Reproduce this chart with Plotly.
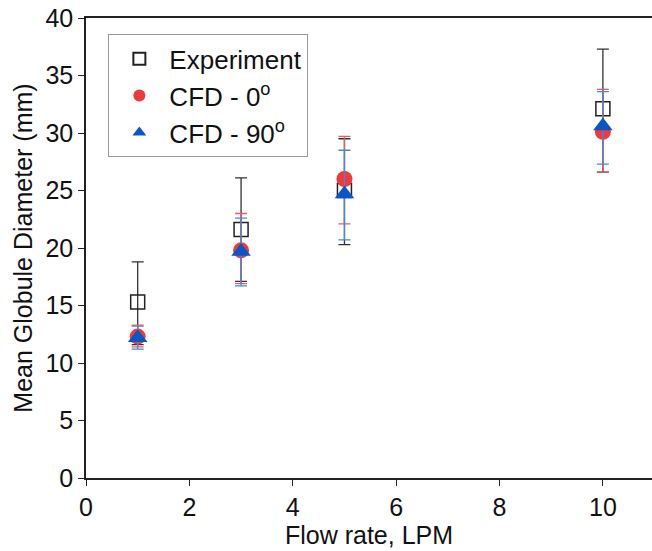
import plotly.graph_objects as go

flow = [1, 3, 5, 10]

exp_mean = [15.3, 21.6, 25.0, 32.1]
exp_hi = [18.8, 26.1, 29.5, 37.3]
exp_lo = [11.6, 17.1, 20.3, 26.6]

cfd0_mean = [12.3, 19.8, 26.0, 30.1]
cfd0_hi = [13.3, 23.0, 29.7, 33.8]
cfd0_lo = [11.4, 16.9, 22.1, 26.6]

cfd90_mean = [12.2, 19.7, 24.7, 30.6]
cfd90_hi = [13.2, 22.6, 28.5, 33.6]
cfd90_lo = [11.2, 16.7, 20.7, 27.3]

FONT = "Liberation Sans, Arial, sans-serif"
FS = 25


def err(mean, hi, lo, color):
    return dict(type="data", symmetric=False,
                array=[h - m for h, m in zip(hi, mean)],
                arrayminus=[m - l for m, l in zip(mean, lo)],
                color=color, thickness=1.3, width=6)


fig = go.Figure()
fig.add_trace(go.Scatter(
    x=flow, y=exp_mean, mode="markers", name="Experiment",
    marker=dict(symbol="square-open", size=14, color="#222222", line=dict(width=1.5)),
    error_y=err(exp_mean, exp_hi, exp_lo, "#333333")))
fig.add_trace(go.Scatter(
    x=flow, y=cfd0_mean, mode="markers", name="CFD - 0<sup>o</sup>",
    marker=dict(symbol="circle", size=16, color="#ee3a3a"),
    error_y=err(cfd0_mean, cfd0_hi, cfd0_lo, "#ee5a5a")))
fig.add_trace(go.Scatter(
    x=flow, y=cfd90_mean, mode="markers", name="CFD - 90<sup>o</sup>",
    marker=dict(symbol="triangle-up", size=17, color="#0a56c8"),
    error_y=err(cfd90_mean, cfd90_hi, cfd90_lo, "#4a86d8")))

fig.update_layout(
    width=652, height=551,
    margin=dict(l=86, r=0, t=18, b=73),
    paper_bgcolor="white", plot_bgcolor="white",
    font=dict(family=FONT, size=FS, color="#111111"),
    legend=dict(x=0.039, y=0.965, xanchor="left", yanchor="top",
                bordercolor="#999999", borderwidth=1.3,
                font=dict(family=FONT, size=26, color="#111111"),
                itemsizing="constant", itemwidth=50, tracegroupgap=0, bgcolor="white"),
    xaxis=dict(range=[0, 10.95], tickvals=[0, 2, 4, 6, 8, 10],
               ticks="outside", ticklen=6, tickwidth=1.3, tickcolor="#222222",
               showline=True, linecolor="#222222", linewidth=1.5, mirror=True,
               showgrid=False, zeroline=False,
               title=dict(text="Flow rate, LPM", font=dict(size=FS), standoff=4),
               tickfont=dict(size=FS)),
    yaxis=dict(range=[0, 40], tickvals=[0, 5, 10, 15, 20, 25, 30, 35, 40],
               ticks="outside", ticklen=6, tickwidth=1.3, tickcolor="#222222",
               showline=True, linecolor="#222222", linewidth=1.5, mirror=False,
               showgrid=False, zeroline=False,
               title=dict(text="Mean Globule Diameter (mm)", font=dict(size=FS), standoff=6),
               tickfont=dict(size=FS)),
)

fig.write_html("out.html")
